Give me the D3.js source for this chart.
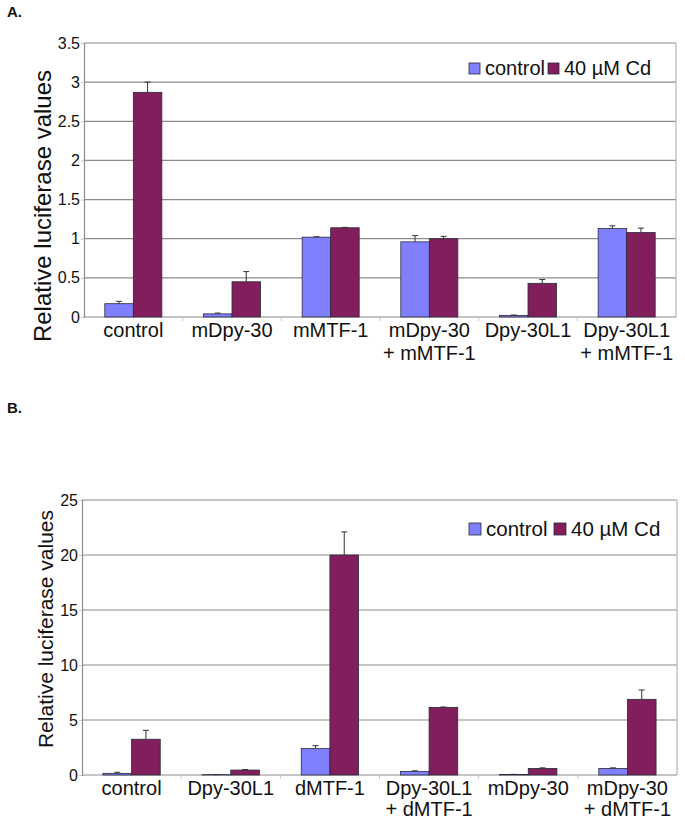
<!DOCTYPE html>
<html>
<head>
<meta charset="utf-8">
<script src="https://cdn.jsdelivr.net/npm/d3@7"></script>
<style>
  body { margin: 0; background: #fff; }
  text { font-family: "Liberation Sans", Arial, sans-serif; }
</style>
</head>
<body>
<div id="chart-area"></div>
<script>
// data
const seriesNames = ["control", "40 µM Cd"];
const colors = ["#8080ff", "#821e5c"];

// panel A
const catsA = ["control", "mDpy-30", "mMTF-1", "mDpy-30\n+ mMTF-1", "Dpy-30L1", "Dpy-30L1\n+ mMTF-1"];
const controlA = [0.17, 0.04, 1.02, 0.96, 0.02, 1.13];
const controlErrA = [0.03, 0.01, 0.005, 0.08, 0.005, 0.035];
const cdA = [2.87, 0.45, 1.14, 1.00, 0.43, 1.08];
const cdErrA = [0.13, 0.13, 0.005, 0.03, 0.05, 0.055];
const ticksA = [0, 0.5, 1, 1.5, 2, 2.5, 3, 3.5];

// panel B
const catsB = ["control", "Dpy-30L1", "dMTF-1", "Dpy-30L1\n+ dMTF-1", "mDpy-30", "mDpy-30\n+ dMTF-1"];
const controlB = [0.15, 0.03, 2.4, 0.33, 0.05, 0.6];
const controlErrB = [0.1, 0.01, 0.27, 0.05, 0.01, 0.05];
const cdB = [3.25, 0.45, 20.0, 6.15, 0.6, 6.88];
const cdErrB = [0.81, 0.05, 2.1, 0.03, 0.05, 0.85];
const ticksB = [0, 5, 10, 15, 20, 25];

const svg = d3.select("#chart-area").append("svg")
    .attr("width", 685)
    .attr("height", 820)

function drawPanel(p) {
    const g = svg.append("g")
    const x0 = d3.scaleBand().domain(p.cats).range([p.left, p.right])
    const step = x0.step()
    const gap = step * 0.211
    const x1 = d3.scaleBand().domain(seriesNames).range([gap, step - gap])
    const y = d3.scaleLinear().domain([0, p.max]).range([p.bottom, p.top])

    // gridlines
    g.selectAll(".grid").data(p.ticks.slice(1)).enter().append("line")
        .attr("x1", p.left).attr("x2", p.right)
        .attr("y1", d => y(d)).attr("y2", d => y(d))
        .attr("stroke", "#8c8c8c").attr("stroke-width", 1.2)

    // right border
    g.append("line")
        .attr("x1", p.right).attr("x2", p.right)
        .attr("y1", p.top).attr("y2", p.bottom)
        .attr("stroke", "#b4b4b4").attr("stroke-width", 1.2)

    // y axis
    const yAxis = g.append("g")
        .attr("transform", `translate(${p.left},0)`)
        .call(d3.axisLeft(y).tickValues(p.ticks).tickSize(3).tickPadding(1).tickFormat(d3.format("")))
    yAxis.select(".domain").attr("stroke", "#8c8c8c").attr("stroke-width", 1.2)
    yAxis.selectAll(".tick line").attr("stroke", "#c8c8c8")
    yAxis.selectAll(".tick text")
        .attr("font-size", 16).attr("fill", "#111")
        .style("font-family", "'Liberation Sans', Arial, sans-serif")

    // x axis line with boundary ticks
    g.append("line")
        .attr("x1", p.left).attr("x2", p.right)
        .attr("y1", p.bottom).attr("y2", p.bottom)
        .attr("stroke", "#8c8c8c").attr("stroke-width", 1.2)
    g.selectAll(".xtick").data(p.cats.slice(1)).enter().append("line")
        .attr("x1", d => x0(d)).attr("x2", d => x0(d))
        .attr("y1", p.bottom).attr("y2", p.bottom + 4)
        .attr("stroke", "#c8c8c8")

    // bars
    const rows = p.cats.map((c, i) => [
        { cat: c, s: seriesNames[0], v: p.control[i], e: p.controlErr[i] },
        { cat: c, s: seriesNames[1], v: p.cd[i], e: p.cdErr[i] }
    ]).flat()

    const groups = g.selectAll(".bar").data(rows).enter().append("g")
    groups.append("rect")
        .attr("x", d => x0(d.cat) + x1(d.s))
        .attr("y", d => y(d.v))
        .attr("width", x1.bandwidth())
        .attr("height", d => y(0) - y(d.v))
        .attr("fill", d => colors[seriesNames.indexOf(d.s)])
        .attr("stroke", "#2a2a3a").attr("stroke-width", 0.8)

    // error bars (upper only)
    const cx = d => x0(d.cat) + x1(d.s) + x1.bandwidth() / 2
    groups.append("line")
        .attr("x1", cx).attr("x2", cx)
        .attr("y1", d => y(d.v)).attr("y2", d => y(d.v + d.e))
        .attr("stroke", "#333").attr("stroke-width", 1)
    groups.append("line")
        .attr("x1", d => cx(d) - 3).attr("x2", d => cx(d) + 3)
        .attr("y1", d => y(d.v + d.e)).attr("y2", d => y(d.v + d.e))
        .attr("stroke", "#333").attr("stroke-width", 1)

    // category labels
    const labels = g.selectAll(".cat").data(p.cats).enter().append("text")
        .attr("text-anchor", "middle")
        .attr("font-size", 20).attr("fill", "#111")
    labels.selectAll("tspan").data(d => d.split("\n").map(t => ({ t, c: d }))).enter().append("tspan")
        .attr("x", d => x0(d.c) + step / 2)
        .attr("y", (d, i) => p.bottom + p.labelDy[i])
        .text(d => d.t)

    // y title
    g.append("text")
        .attr("transform", `translate(${p.titleX},${p.titleY}) rotate(-90)`)
        .attr("text-anchor", "middle")
        .attr("font-size", p.titleSize).attr("fill", "#111")
        .text("Relative luciferase values")

    // legend
    const leg = g.append("g").attr("transform", `translate(${p.legX},${p.legY})`)
    leg.append("rect").attr("x", 0).attr("y", 0).attr("width", p.legSq).attr("height", p.legSq)
        .attr("fill", colors[0]).attr("stroke", "#2a2a3a").attr("stroke-width", 0.8)
    leg.append("text").attr("x", p.legSq + 5).attr("y", p.legSq + 1)
        .attr("font-size", p.legSize).attr("fill", "#111").text(seriesNames[0])
    leg.append("rect").attr("x", p.legX2).attr("y", 0).attr("width", p.legSq).attr("height", p.legSq)
        .attr("fill", colors[1]).attr("stroke", "#2a2a3a").attr("stroke-width", 0.8)
    leg.append("text").attr("x", p.legX2 + p.legSq + 5).attr("y", p.legSq + 1)
        .attr("font-size", p.legSize).attr("fill", "#111").text(seriesNames[1])

    // panel letter
    svg.append("text")
        .attr("x", 7).attr("y", p.letterY)
        .attr("font-size", 15).attr("font-weight", "bold").attr("fill", "#111")
        .text(p.letter)
}

drawPanel({
    cats: catsA, control: controlA, controlErr: controlErrA, cd: cdA, cdErr: cdErrA,
    ticks: ticksA, max: 3.5,
    left: 84, right: 676, top: 43, bottom: 317,
    labelDy: [20, 43],
    titleX: 51, titleY: 206, titleSize: 24,
    legX: 469, legY: 63, legSq: 11, legX2: 79, legSize: 20,
    letter: "A.", letterY: 17
})

drawPanel({
    cats: catsB, control: controlB, controlErr: controlErrB, cd: cdB, cdErr: cdErrB,
    ticks: ticksB, max: 25,
    left: 82, right: 677, top: 500, bottom: 775,
    labelDy: [20, 41],
    titleX: 53, titleY: 629, titleSize: 21,
    legX: 469, legY: 523, legSq: 12, legX2: 85, legSize: 20.5,
    letter: "B.", letterY: 413
})
</script>
</body>
</html>
